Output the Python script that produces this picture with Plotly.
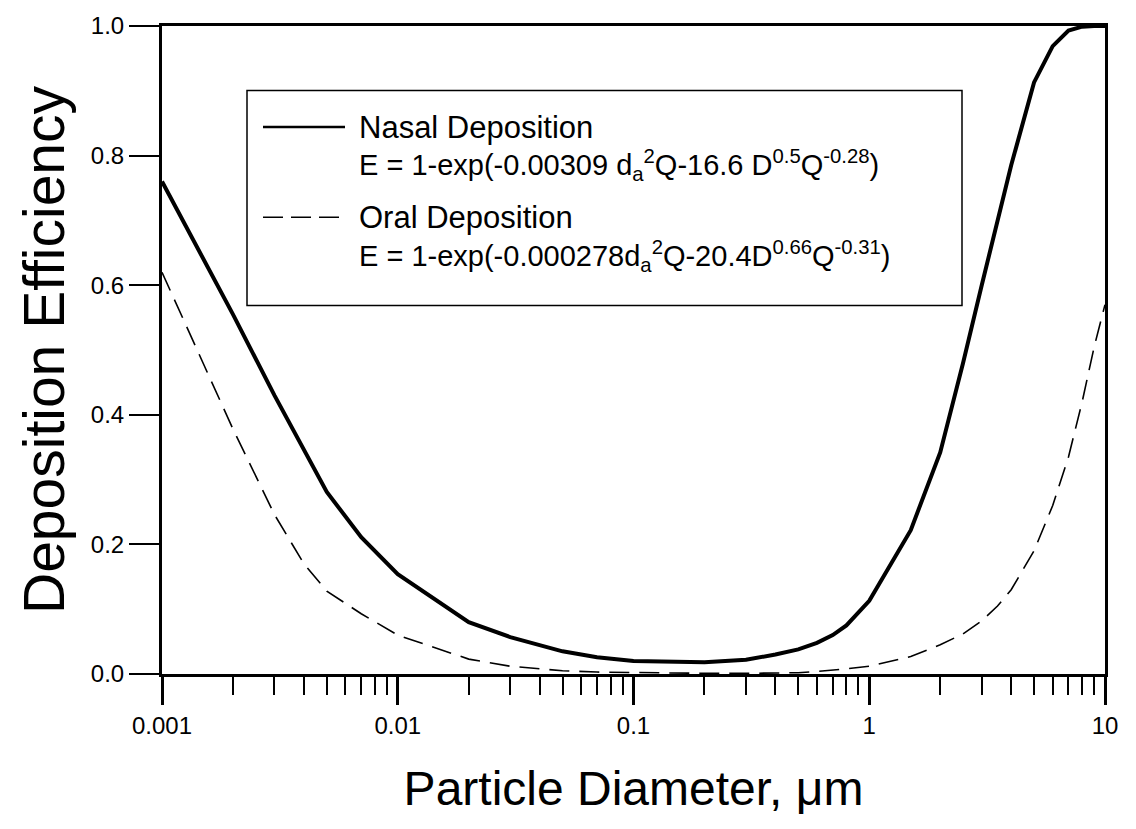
import plotly.graph_objects as go

# Data
diameter = [0.001, 0.002, 0.003, 0.004, 0.005, 0.007, 0.01, 0.02, 0.03, 0.05, 0.07,
            0.1, 0.2, 0.3, 0.4, 0.5, 0.6, 0.7, 0.8, 1, 1.5, 2, 2.5, 3, 3.5, 4, 5, 6, 7, 8, 9, 10]
nasal = [0.76, 0.555, 0.43, 0.347, 0.281, 0.211, 0.154, 0.08, 0.057, 0.035, 0.026,
         0.020, 0.018, 0.022, 0.030, 0.038, 0.048, 0.060, 0.075, 0.113, 0.222, 0.342,
         0.48, 0.60, 0.70, 0.785, 0.913, 0.969, 0.993, 0.999, 1.0, 1.0]
oral = [0.62, 0.378, 0.246, 0.17, 0.128, 0.093, 0.06, 0.023, 0.012, 0.005, 0.003,
        0.002, 0.001, 0.001, 0.001, 0.002, 0.004, 0.006, 0.008, 0.012, 0.027, 0.045,
        0.062, 0.082, 0.105, 0.13, 0.19, 0.26, 0.335, 0.42, 0.505, 0.57]

x_ticks = [0.001, 0.01, 0.1, 1, 10]
x_ticktext = ["0.001", "0.01", "0.1", "1", "10"]
y_ticks = [0.0, 0.2, 0.4, 0.6, 0.8, 1.0]
minor_ticks = [k * 10.0 ** e for e in range(-3, 1) for k in range(2, 10)]

FONT = "Liberation Sans, Arial, sans-serif"

fig = go.Figure()
fig.add_trace(go.Scatter(x=diameter, y=nasal, mode="lines",
                         line=dict(color="black", width=4), name="Nasal Deposition",
                         showlegend=False))
fig.add_trace(go.Scatter(x=diameter, y=oral, mode="lines",
                         line=dict(color="black", width=1.6, dash="20px,10px"),
                         name="Oral Deposition", showlegend=False))

fig.update_xaxes(type="log", range=[-3, 1], tickvals=x_ticks, ticktext=x_ticktext,
                 ticks="outside", ticklen=28, tickwidth=3, tickcolor="black",
                 showline=True, linewidth=3, linecolor="black", mirror=True,
                 showgrid=False, zeroline=False,
                 tickfont=dict(family=FONT, size=24, color="black"),
                 minor=dict(tickmode="array", tickvals=minor_ticks, ticks="outside",
                            ticklen=18, tickwidth=2, tickcolor="black", showgrid=False),
                 title=dict(text="Particle Diameter, \u03bcm",
                            font=dict(family=FONT, size=48, color="black"), standoff=34))
fig.update_yaxes(range=[0, 1], tickvals=y_ticks, tickformat=".1f",
                 ticks="outside", ticklen=30, tickwidth=2, tickcolor="black",
                 showline=True, linewidth=3, linecolor="black", mirror=True,
                 showgrid=False, zeroline=False,
                 tickfont=dict(family=FONT, size=24, color="black"),
                 title=dict(text="Deposition Efficiency",
                            font=dict(family=FONT, size=57, color="black"), standoff=8))

W, H = 1136, 829
L, R, T, B = 162, 31, 20, 155
pw, ph = W - L - R, H - T - B


def px(x):
    return (x - L) / pw


def py(y):
    return (H - B - y) / ph


# Legend box
fig.add_shape(type="rect", xref="paper", yref="paper",
              x0=px(247), x1=px(962), y0=py(302), y1=py(85),
              line=dict(color="black", width=1.5), fillcolor="white")
fig.add_shape(type="line", xref="paper", yref="paper",
              x0=px(263), x1=px(345), y0=py(122), y1=py(122),
              line=dict(color="black", width=2.5))
fig.add_shape(type="line", xref="paper", yref="paper",
              x0=px(263), x1=px(345), y0=py(213), y1=py(213),
              line=dict(color="black", width=1.5, dash="20px,8px"))

texts = [
    ("Nasal Deposition", 122, 31),
    ("E = 1-exp(-0.00309 d<sub>a</sub><sup>2</sup>Q-16.6 D<sup>0.5</sup>Q<sup>-0.28</sup>)", 160, 29),
    ("Oral Deposition", 213, 31),
    ("E = 1-exp(-0.000278d<sub>a</sub><sup>2</sup>Q-20.4D<sup>0.66</sup>Q<sup>-0.31</sup>)", 252, 29),
]
for t, yy, fs in texts:
    fig.add_annotation(text=t, xref="paper", yref="paper", x=px(357), y=py(yy),
                       xanchor="left", yanchor="middle", showarrow=False,
                       font=dict(family=FONT, size=fs, color="black"))

fig.update_layout(width=W, height=H, margin=dict(l=L, r=R, t=T, b=B),
                  plot_bgcolor="white", paper_bgcolor="white",
                  font=dict(family=FONT, color="black"))

fig.write_html("out.html")
